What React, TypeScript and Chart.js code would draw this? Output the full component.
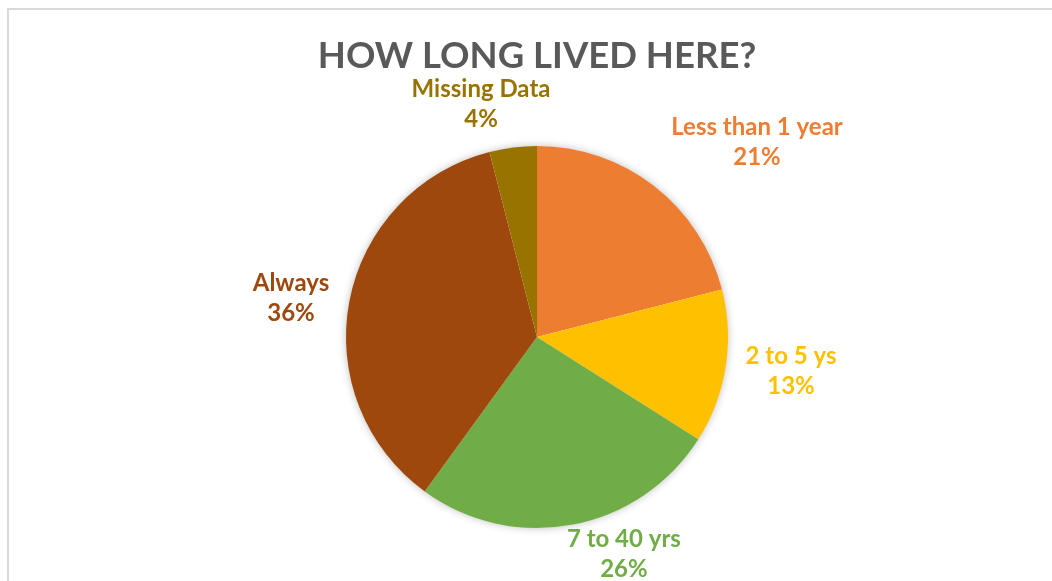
import React, { useEffect, useRef } from "react";
import { Chart, registerables } from "chart.js";

Chart.register(...registerables);

const TITLE = "HOW LONG LIVED HERE?";
const categories = ["Less than 1 year", "2 to 5 ys", "7 to 40 yrs", "Always", "Missing Data"];
const percentages = [21, 13, 26, 36, 4];
const sliceColors = ["#ED7D31", "#FFC000", "#70AD47", "#9E480E", "#997300"];

// label block centres, relative to pie centre, in units of the pie radius
const labelOffsets: [number, number][] = [
  [1.152, -1.021],
  [1.33, 0.173],
  [0.455, 1.131],
  [-1.288, -0.207],
  [-0.293, -1.223],
];

const FONT = "Lato, 'Open Sans', sans-serif";

const decorPlugin = {
  id: "decor",
  beforeDatasetsDraw(chart: any) {
    const meta = chart.getDatasetMeta(0);
    const arc = meta.data[0];
    if (!arc) return;
    const { x, y, outerRadius } = arc.getProps(["x", "y", "outerRadius"], true);
    const ctx = chart.ctx;
    ctx.save();
    ctx.shadowColor = "rgba(0,0,0,0.28)";
    ctx.shadowBlur = 9;
    ctx.shadowOffsetX = 0;
    ctx.shadowOffsetY = 0;
    ctx.fillStyle = "#ffffff";
    ctx.beginPath();
    ctx.arc(x, y, outerRadius - 0.5, 0, Math.PI * 2);
    ctx.fill();
    ctx.restore();
  },
  afterDatasetsDraw(chart: any) {
    const meta = chart.getDatasetMeta(0);
    const ctx = chart.ctx;
    const first = meta.data[0];
    if (!first) return;
    const { x: cx, y: cy, outerRadius: r } = first.getProps(["x", "y", "outerRadius"], true);
    ctx.save();
    // title
    ctx.fillStyle = "#595959";
    ctx.font = `bold 36.5px ${FONT}`;
    ctx.textAlign = "center";
    ctx.textBaseline = "alphabetic";
    ctx.fillText(TITLE, cx, 68);
    // labels
    ctx.font = `bold 24px ${FONT}`;
    meta.data.forEach((_el: any, i: number) => {
      const [ox, oy] = labelOffsets[i];
      const lx = cx + ox * r;
      const ly = cy + oy * r;
      ctx.fillStyle = sliceColors[i];
      ctx.fillText(categories[i], lx, ly - 6.5);
      ctx.fillText(`${percentages[i]}%`, lx, ly + 23.5);
    });
    ctx.restore();
  },
};

export default function App() {
  const ref = useRef<HTMLCanvasElement | null>(null);
  useEffect(() => {
    document.body.style.overflow = "hidden";
    if (!ref.current) return;
    const chart = new Chart(ref.current, {
      type: "pie",
      data: {
        labels: categories,
        datasets: [
          {
            data: percentages,
            backgroundColor: sliceColors,
            borderWidth: 0,
          },
        ],
      },
      options: {
        animation: false,
        responsive: false,
        maintainAspectRatio: false,
        layout: { padding: { left: 346, right: 324, top: 146, bottom: 53 } },
        plugins: {
          legend: { display: false },
          tooltip: { enabled: false },
          title: { display: false },
        },
      },
      plugins: [decorPlugin],
    });
    return () => chart.destroy();
  }, []);
  return (
    <div style={{ position: "fixed", left: 0, top: 0, width: 1052, height: 581, background: "#fff" }}>
      <div
        style={{
          position: "absolute",
          left: 7,
          top: 8,
          width: 1100,
          height: 700,
          borderTop: "2px solid #d9d9d9",
          borderLeft: "2px solid #d9d9d9",
        }}
      />
      <canvas ref={ref} width={1052} height={581} style={{ position: "absolute", left: 0, top: 0 }} />
    </div>
  );
}
